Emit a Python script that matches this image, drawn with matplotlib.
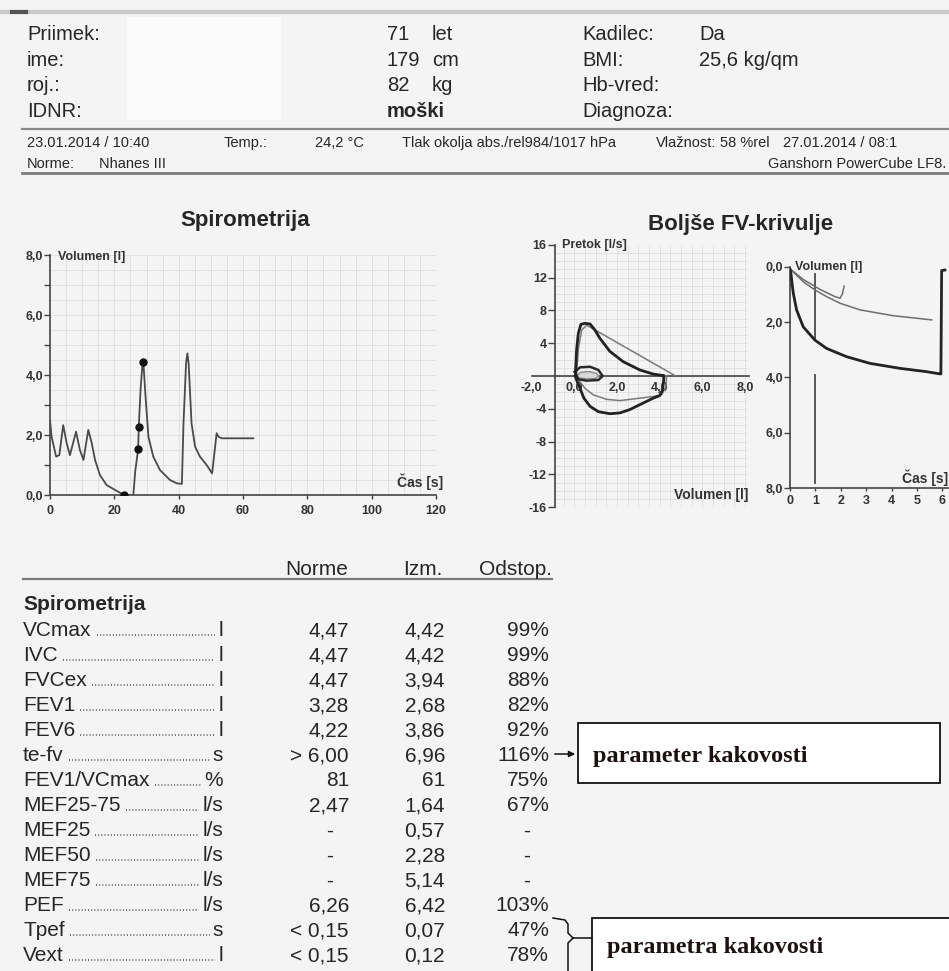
import numpy as np
import matplotlib
matplotlib.use("Agg")
import matplotlib.pyplot as plt
from matplotlib.lines import Line2D
from matplotlib.patches import Rectangle, FancyArrowPatch

# ---------------- report data ----------------
patient_labels = ["Priimek:", "ime:", "roj.:", "IDNR:"]
body_values = ["71", "179", "82"]
body_units = ["let", "cm", "kg"]
sex_label = "moški"
risk_labels = ["Kadilec:", "BMI:", "Hb-vred:", "Diagnoza:"]
risk_values = ["Da", "25,6 kg/qm", "", ""]

session_left = ["23.01.2014 / 10:40", "Temp.:", "24,2 °C",
                "Tlak okolja abs./rel984/1017 hPa", "Vlažnost:", "58 %rel",
                "27.01.2014 / 08:1"]
norm_set = ["Norme:", "Nhanes III"]
device = "Ganshorn PowerCube LF8."

# spirometry trace: time [s] / volume [l]
spiro_t = [0, 0.5, 1.9, 2.9, 4.1, 5.2, 6.2, 8.1, 9.3, 10.4, 11.9, 13.0, 14.0,
           15.5, 17.6, 20.2, 23.0, 25.9, 26.5, 27.4, 27.6, 28.2, 28.8, 29.0,
           29.7, 30.6, 32.1, 34.2, 37.3, 39.4, 41.0, 41.5, 42.3, 42.7, 43.1,
           44.0, 45.1, 46.6, 48.7, 50.4, 51.8, 52.4, 53.4, 63.2]
spiro_v = [2.5, 1.94, 1.28, 1.33, 2.33, 1.72, 1.33, 2.11, 1.5, 1.17, 2.17, 1.72,
           1.17, 0.67, 0.33, 0.17, 0.0, 0.0, 0.8, 1.52, 2.28, 3.6, 4.42, 4.48,
           3.28, 1.94, 1.28, 0.83, 0.5, 0.39, 0.37, 2.39, 4.39, 4.72, 4.39,
           2.39, 1.61, 1.28, 1.0, 0.72, 2.06, 1.94, 1.89, 1.89]
mark_t = [23.0, 27.4, 27.6, 28.8]
mark_v = [0.0, 1.52, 2.28, 4.42]

# flow-volume loops: volume [l] / flow [l/s]
best_exp_vol = [0.05, 0.11, 0.19, 0.31, 0.5, 0.74, 0.97, 1.2, 1.67, 2.3, 3.08, 3.7, 4.17]
best_exp_flow = [0.0, 3.2, 5.2, 6.3, 6.42, 6.35, 5.6, 4.6, 3.0, 1.74, 0.73, 0.24, 0.05]
best_insp_vol = [4.17, 4.2, 4.14, 4.0, 3.7, 3.23, 2.6, 2.14, 1.67, 1.13, 0.74, 0.45, 0.27, 0.11, 0.05]
best_insp_flow = [0.05, -0.3, -1.7, -2.4, -2.7, -3.3, -4.1, -4.5, -4.6, -4.35, -3.7, -2.7, -1.5, -0.5, 0.0]
alt_exp_vol = [0.1, 0.2, 0.35, 0.58, 4.72]
alt_exp_flow = [0.0, 3.5, 5.6, 6.2, 0.05]
alt_insp_vol = [4.33, 4.3, 4.1, 3.7, 3.08, 2.14, 1.52, 0.89, 0.5, 0.27, 0.1]
alt_insp_flow = [0.0, -1.3, -2.3, -2.5, -2.7, -3.0, -2.85, -2.3, -1.5, -0.7, -0.1]
tidal_vol = [0.03, 0.27, 0.74, 1.13, 1.33, 1.13, 0.58, 0.19, 0.03]
tidal_flow = [0.5, 1.06, 1.13, 0.73, 0.0, -0.49, -0.57, -0.4, 0.5]
tidal2_vol = [0.1, 0.3, 0.7, 1.05, 1.15, 1.0, 0.6, 0.25, 0.1]
tidal2_flow = [0.0, 0.45, 0.55, 0.3, 0.0, -0.3, -0.35, -0.25, 0.0]

# volume-time curves: time [s] / expired volume [l]
vt_best_t = [0.0, 0.03, 0.08, 0.13, 0.26, 0.52, 0.98, 1.44, 2.23, 3.15, 4.33, 5.38, 5.9, 5.94, 5.97, 6.1]
vt_best_v = [0.1, 0.18, 0.6, 0.96, 1.56, 2.17, 2.65, 2.95, 3.25, 3.49, 3.67, 3.79, 3.87, 3.87, 0.14, 0.12]
vt_alt_t = [0.03, 0.52, 0.98, 1.44, 1.97, 2.76, 4.07, 5.58]
vt_alt_v = [0.1, 0.54, 0.84, 1.08, 1.32, 1.56, 1.77, 1.92]
vt_alt2_t = [0.03, 0.52, 1.18, 1.77, 1.97, 2.07, 2.13]
vt_alt2_v = [0.1, 0.46, 0.82, 1.08, 1.14, 0.96, 0.7]
fev1_time = 1.0

# results table
params = ["VCmax", "IVC", "FVCex", "FEV1", "FEV6", "te-fv", "FEV1/VCmax",
          "MEF25-75", "MEF25", "MEF50", "MEF75", "PEF", "Tpef", "Vext"]
units = ["l", "l", "l", "l", "l", "s", "%", "l/s", "l/s", "l/s", "l/s", "l/s", "s", "l"]
norm_vals = ["4,47", "4,47", "4,47", "3,28", "4,22", "> 6,00", "81", "2,47",
             "-", "-", "-", "6,26", "< 0,15", "< 0,15"]
meas_vals = ["4,42", "4,42", "3,94", "2,68", "3,86", "6,96", "61", "1,64",
             "0,57", "2,28", "5,14", "6,42", "0,07", "0,12"]
dev_vals = ["99%", "99%", "88%", "82%", "92%", "116%", "75%", "67%",
            "-", "-", "-", "103%", "47%", "78%"]
col_heads = ["Norme", "Izm.", "Odstop."]
note_single = "parameter kakovosti"
note_pair = "parametra kakovosti"

# ---------------- figure helpers ----------------
W, H = 949, 971
PAGE = "#f4f4f4"
INK = "#262626"
SANS = ["Liberation Sans", "DejaVu Sans"]
SERIF = ["Liberation Serif", "DejaVu Serif"]

fig = plt.figure(figsize=(W / 100, H / 100), dpi=100, facecolor=PAGE)


def text_px(x, y, s, size, ha="left", weight="normal", family=SANS, color=INK, baseline=False):
    yb = y if baseline else y + 0.358 * size * 100 / 72
    return fig.text(x / W, 1 - yb / H, s, ha=ha, va="baseline", fontsize=size,
                    fontweight=weight, family=family, color=color)


def line_px(xs, ys, **kw):
    fig.add_artist(Line2D([x / W for x in xs], [1 - y / H for y in ys],
                          transform=fig.transFigure, **kw))


def rect_px(x0, y0, x1, y1, **kw):
    fig.add_artist(Rectangle((x0 / W, 1 - y1 / H), (x1 - x0) / W, (y1 - y0) / H,
                             transform=fig.transFigure, **kw))


def axes_px(left, top, right, bottom):
    ax = fig.add_axes([left / W, 1 - bottom / H, (right - left) / W, (bottom - top) / H])
    ax.set_facecolor("none")
    return ax


def comma(v, nd=1):
    return f"{v:.{nd}f}".replace(".", ",")


# ---------------- header block ----------------
line_px([0, W], [12, 12], color="#c9c9c9", lw=3)
line_px([12, 26], [12, 12], color="#555555", lw=3)
rect_px(127, 17, 281, 120, facecolor="#fbfbfb", edgecolor="none")

rows_y = [33, 58.6, 84.2, 109.8]
for y, lab in zip(rows_y, patient_labels):
    text_px(27, y, lab, 14.5)
for y, val, unit in zip(rows_y, body_values, body_units):
    text_px(387, y, val, 14.5)
    text_px(432, y, unit, 14.5)
text_px(387, rows_y[3], sex_label, 14.5, weight="bold")
for y, lab, val in zip(rows_y, risk_labels, risk_values):
    text_px(582, y, lab, 14.5)
    if val:
        text_px(699, y, val, 14.5)

line_px([22, W], [129, 129], color="#8a8a8a", lw=1.6)
sess_x = [27, 224, 315, 402, 656, 720, 783]
for x, s in zip(sess_x, session_left):
    text_px(x, 142, s, 10.5)
text_px(27, 163, norm_set[0], 10.5)
text_px(99, 163, norm_set[1], 10.5)
text_px(W - 3, 163, device, 10.5, ha="right")
line_px([22, W], [173, 173], color="#7a7a7a", lw=2)

# ---------------- chart titles ----------------
text_px(245, 218, "Spirometrija", 16, ha="center", weight="bold")
text_px(741, 222, "Boljše FV-krivulje", 16, ha="center", weight="bold")

GRID = "#e1e1e1"
AXC = "#444444"
TICKFONT = dict(fontsize=9, fontweight="bold", color="#333333", family=SANS)

# ---------------- spirometry trace ----------------
ax1 = axes_px(50, 255, 436, 495)
ax1.set_xlim(0, 120)
ax1.set_ylim(0, 8)
ax1.vlines(np.arange(5, 121, 5), 0, 8, color=GRID, lw=0.7, zorder=0)
ax1.hlines(np.arange(0.5, 8.01, 0.5), 0, 120, color=GRID, lw=0.7, zorder=0)
for side in ("top", "right"):
    ax1.spines[side].set_visible(False)
for side in ("left", "bottom"):
    ax1.spines[side].set_color(AXC)
    ax1.spines[side].set_linewidth(1.2)
yt = [0, 2, 4, 6, 8]
ax1.set_yticks(yt, [comma(v) for v in yt], **TICKFONT)
ax1.set_yticks([1, 3, 5, 7], minor=True)
xt = list(range(0, 121, 20))
ax1.set_xticks(xt, [str(v) for v in xt], **TICKFONT)
ax1.tick_params(axis="y", which="both", direction="out", length=4, width=1, color=AXC, pad=1)
ax1.tick_params(axis="x", direction="out", length=3, width=1, color=AXC, pad=4)
ax1.plot(spiro_t, spiro_v, color="#4a4a4a", lw=1.3, zorder=3)
ax1.plot(mark_t, mark_v, "o", color="#111111", ms=5, zorder=4)
ax1.text(2.5, 7.93, "Volumen [l]", ha="left", va="center", clip_on=False, **TICKFONT)
ax1.text(122.2, 0.43, "Čas [s]", ha="right", va="center", clip_on=False,
         fontsize=10, fontweight="bold", color="#333333", family=SANS)

# ---------------- flow-volume loops ----------------
ax2 = axes_px(531.6, 244.8, 749.2, 507.2)
ax2.set_xlim(-2, 8.2)
ax2.set_ylim(-16, 16)
ax2.vlines(np.arange(-0.5, 8.01, 0.5), -16, 16, color=GRID, lw=0.7, zorder=0)
ax2.hlines(np.arange(-15, 16, 1), -0.9, 8.1, color=GRID, lw=0.7, zorder=0)
for side in ("top", "right"):
    ax2.spines[side].set_visible(False)
ax2.spines["left"].set_position(("data", -0.9))
ax2.spines["bottom"].set_position(("data", 0))
for side in ("left", "bottom"):
    ax2.spines[side].set_color(AXC)
    ax2.spines[side].set_linewidth(1.2)
fy_t = [-16, -12, -8, -4, 4, 8, 12, 16]
ax2.set_yticks(fy_t, [str(v) for v in fy_t], **TICKFONT)
fx_t = [-2, 0, 2, 4, 6, 8]
ax2.set_xticks(fx_t, [comma(v) for v in fx_t], **TICKFONT)
ax2.tick_params(axis="y", direction="out", length=5, width=1, color=AXC, pad=1)
ax2.tick_params(axis="x", length=0, pad=4)
ax2.plot(alt_exp_vol, alt_exp_flow, color="#7a7a7a", lw=1.1, zorder=3)
ax2.plot(alt_insp_vol, alt_insp_flow, color="#7a7a7a", lw=1.1, zorder=3)
ax2.fill(tidal2_vol, tidal2_flow, facecolor="#d8d8d8", edgecolor="#8a8a8a", lw=1.0, zorder=3)
ax2.plot(tidal_vol, tidal_flow, color="#2a2a2a", lw=1.8, zorder=4)
ax2.plot(best_exp_vol, best_exp_flow, color="#222222", lw=2.0, zorder=4)
ax2.plot(best_insp_vol, best_insp_flow, color="#222222", lw=2.0, zorder=4)
ax2.text(-0.58, 16, "Pretok [l/s]", ha="left", va="center", clip_on=False, **TICKFONT)
ax2.text(8.14, -14.5, "Volumen [l]", ha="right", va="center", clip_on=False,
         fontsize=10, fontweight="bold", color="#333333", family=SANS)

# ---------------- volume-time curves ----------------
ax3 = axes_px(790, 266.7, 947.5, 488.3)
ax3.set_xlim(0, 6.2)
ax3.set_ylim(8, 0)
for side in ("top", "right"):
    ax3.spines[side].set_visible(False)
for side in ("left", "bottom"):
    ax3.spines[side].set_color(AXC)
    ax3.spines[side].set_linewidth(1.2)
vy_t = [0, 2, 4, 6, 8]
ax3.set_yticks(vy_t, [comma(v) for v in vy_t], **TICKFONT)
vx_t = list(range(0, 7))
ax3.set_xticks(vx_t, [str(v) for v in vx_t], **TICKFONT)
ax3.tick_params(axis="y", direction="out", length=4, width=1, color=AXC, pad=1)
ax3.tick_params(axis="x", direction="out", length=2, width=1, color=AXC, pad=3)
ax3.plot([fev1_time, fev1_time], [0.26, 2.61], color="#4a4a4a", lw=1.3, zorder=2)
ax3.plot([fev1_time, fev1_time], [3.91, 7.82], color="#4a4a4a", lw=1.3, zorder=2)
ax3.plot(vt_alt_t, vt_alt_v, color="#6e6e6e", lw=1.1, zorder=3)
ax3.plot(vt_alt2_t, vt_alt2_v, color="#6e6e6e", lw=1.1, zorder=3)
ax3.plot(vt_best_t, vt_best_v, color="#222222", lw=2.0, zorder=4)
ax3.text(0.2, 0.0, "Volumen [l]", ha="left", va="center", clip_on=False, **TICKFONT)
ax3.text(6.22, 7.63, "Čas [s]", ha="right", va="center", clip_on=False,
         fontsize=10, fontweight="bold", color="#333333", family=SANS)

# ---------------- results table ----------------
head_x = [317, 423, 516]
for x, s in zip(head_x, col_heads):
    text_px(x, 568, s, 15, ha="center")
line_px([23, 552], [579, 579], color="#7a7a7a", lw=1.6)
text_px(23, 603, "Spirometrija", 15, weight="bold")

renderer = fig.canvas.get_renderer()
row0, step = 629, 25
col_right = [349, 445, 549]
col_mid = [330, 423, 527]
for i, (name, unit) in enumerate(zip(params, units)):
    yc = row0 + i * step
    t_name = text_px(23, yc, name, 15)
    t_unit = text_px(223, yc, unit, 15, ha="right")
    b1 = t_name.get_window_extent(renderer)
    b2 = t_unit.get_window_extent(renderer)
    yb = yc + 0.358 * 15 * 100 / 72
    line_px([b1.x1 + 5, b2.x0 - 3], [yb - 1.5, yb - 1.5], color="#555555", lw=1.2,
            linestyle=(0, (0.6, 1.3)), dash_capstyle="butt")
    for c, vals in enumerate((norm_vals, meas_vals, dev_vals)):
        v = vals[i]
        if v == "-":
            text_px(col_mid[c], yc, v, 15, ha="center")
        else:
            text_px(col_right[c], yc, v, 15, ha="right")

# quality-parameter callouts
rect_px(578, 723, 940, 783, facecolor="white", edgecolor="#111111", lw=1.3)
text_px(593, 761.7, note_single, 17.5, weight="bold", family=SERIF, color="#1c1212", baseline=True)
te_row = row0 + params.index("te-fv") * step
fig.add_artist(FancyArrowPatch((552 / W, 1 - te_row / H), (578 / W, 1 - te_row / H),
                               transform=fig.transFigure, arrowstyle="-|>",
                               mutation_scale=9, lw=1.1, color="#111111"))

rect_px(592, 918, 965, 985, facecolor="white", edgecolor="#111111", lw=1.3)
text_px(607, 953.3, note_pair, 17.5, weight="bold", family=SERIF, color="#1c1212", baseline=True)
line_px([553, 565, 568, 568, 573], [918, 920, 924, 933, 938], color="#111111", lw=1.1)
line_px([573, 568, 568], [938, 943, 975], color="#111111", lw=1.1)
line_px([573, 592], [938, 938], color="#111111", lw=1.1)

fig.savefig("out.png", dpi=100, facecolor=PAGE)
